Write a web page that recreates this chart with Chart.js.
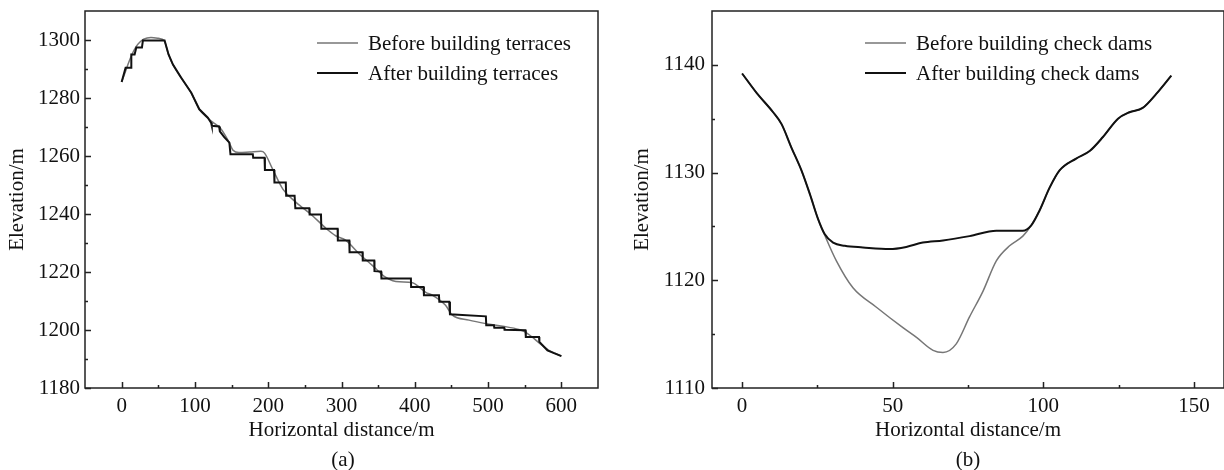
<!DOCTYPE html>
<html>
<head>
<meta charset="utf-8">
<script src="https://cdn.jsdelivr.net/npm/chart.js@4.4.0/dist/chart.umd.min.js"></script>
<style>
  body { margin: 0; background: #fff; width: 1224px; height: 470px; overflow: hidden; position: relative; font-family: "Liberation Serif", "Times New Roman", serif; }
  .panel { position: absolute; top: 0; width: 612px; height: 470px; }
  .caption { position: absolute; top: 447px; font-size: 21px; color: #111; transform: translateX(-50%); line-height: 24px; }
</style>
</head>
<body>
<div class="panel" style="left:0"><canvas id="chartA" width="612" height="470"></canvas></div>
<div class="panel" style="left:612px"><canvas id="chartB" width="612" height="470"></canvas></div>
<div class="caption" style="left:343px">(a)</div>
<div class="caption" style="left:968px">(b)</div>
<script>
// (a) terraces
const terraceDistBefore = [0, 5, 10, 15, 20, 25, 30, 40, 50, 58, 64, 70, 81, 95, 106, 117, 125, 135, 145, 152, 160, 175, 190, 195, 206, 220, 238, 260, 279, 292, 306, 324, 342, 360, 370, 379, 397, 406, 415, 424, 442, 451, 474, 497, 520, 542, 551, 560, 570, 583, 600];
const terraceElevBefore = [1285.5, 1289, 1292.5, 1295.5, 1297.8, 1299.3, 1300.3, 1300.9, 1300.6, 1299.8, 1295, 1291.5, 1287, 1281.8, 1276.1, 1273.2, 1271.5, 1269.5, 1265.5, 1262, 1261.2, 1261.4, 1261.6, 1261, 1255.5, 1248.6, 1244, 1239.5, 1235, 1232.5, 1230.9, 1226.3, 1222.3, 1218.2, 1217, 1216.6, 1216.3, 1214.8, 1213, 1212, 1208.5, 1205.2, 1203.4, 1202.2, 1201.3, 1200.2, 1199.3, 1197.6, 1195.5, 1193, 1191];

const terraceDistAfter = [0, 5.4, 13.2, 13.2, 17.7, 20, 27.7, 29, 58.6, 64, 70, 81.3, 95, 106, 117.6, 122, 123, 133, 134, 140, 147, 148.5, 179, 179.5, 195, 195.5, 208, 208.5, 224, 224.5, 236, 237, 256, 256.5, 272, 272.5, 294.7, 295, 310.6, 311, 328.7, 329, 344.7, 345, 354, 354.5, 394.7, 395, 412, 412.5, 433, 433.5, 447, 448, 497, 497.5, 508, 508.5, 522, 522.5, 551, 551.5, 569.5, 570, 581, 590, 600];
const terraceElevAfter = [1285.5, 1290.4, 1290.4, 1295, 1295, 1297.4, 1297.4, 1299.8, 1299.8, 1295, 1291.5, 1287, 1281.8, 1276.1, 1273.2, 1271.5, 1270.4, 1270.2, 1268.5, 1266.5, 1264.6, 1260.6, 1260.6, 1259.4, 1259.4, 1255.2, 1255.2, 1250.9, 1250.9, 1246.3, 1246.3, 1242, 1242, 1239.8, 1239.8, 1234.9, 1234.9, 1230.9, 1230.9, 1226.8, 1226.8, 1224, 1224, 1220.3, 1220.2, 1217.8, 1217.8, 1214.8, 1214.8, 1212, 1212, 1209.7, 1209.7, 1205.4, 1204.7, 1201.6, 1201.6, 1200.8, 1200.8, 1200.1, 1199.9, 1197.6, 1197.6, 1195.9, 1193, 1192, 1191];

const terraceXTicks = [0, 100, 200, 300, 400, 500, 600];
const terraceXMinor = [50, 150, 250, 350, 450, 550];
const terraceYTicks = [1180, 1200, 1220, 1240, 1260, 1280, 1300];
const terraceYMinor = [1190, 1210, 1230, 1250, 1270, 1290];

// (b) check dams
const damDistBefore = [0, 4.8, 10.3, 13.1, 16.4, 19.7, 22.5, 25.2, 27.4, 31.3, 36.8, 44.6, 53.4, 57.9, 63.4, 66.7, 71.1, 75.5, 80, 84.4, 88.8, 93.2, 96, 98.8, 102.1, 105.4, 110.9, 115.4, 119.8, 124.8, 128.6, 133, 137.5, 142.5];
const damElevBefore = [1139.2, 1137.4, 1135.6, 1134.5, 1132.3, 1130.2, 1128, 1125.7, 1124.2, 1121.8, 1119.3, 1117.5, 1115.6, 1114.7, 1113.5, 1113.3, 1114.1, 1116.6, 1119, 1121.8, 1123.2, 1124.1, 1125.1, 1126.5, 1128.6, 1130.2, 1131.3, 1132, 1133.3, 1135, 1135.6, 1136, 1137.3, 1139];

const damDistAfter = [0, 4.8, 10.3, 13.1, 16.4, 19.7, 22.5, 25.2, 27.4, 30.2, 34.1, 40.1, 49, 54.5, 60, 66.7, 75.5, 84.4, 93.2, 96, 98.8, 102.1, 105.4, 110.9, 115.4, 119.8, 124.8, 128.6, 133, 137.5, 142.5];
const damElevAfter = [1139.2, 1137.4, 1135.6, 1134.5, 1132.3, 1130.2, 1128, 1125.7, 1124.3, 1123.5, 1123.2, 1123.05, 1122.9, 1123.1, 1123.5, 1123.7, 1124.1, 1124.6, 1124.6, 1125.1, 1126.5, 1128.6, 1130.2, 1131.3, 1132, 1133.3, 1135, 1135.6, 1136, 1137.3, 1139];

const damXTicks = [0, 50, 100, 150];
const damXMinor = [25, 75, 125];
const damYTicks = [1110, 1120, 1130, 1140];
const damYMinor = [1115, 1125, 1135];

const serif = "'Liberation Serif', 'Times New Roman', serif";
const textFont = { family: serif, size: 21, lineHeight: 1.2 };
const grayLine = "#767676";
const blackLine = "#111";

function xy(xs, ys) {
  return xs.map((x, i) => ({ x, y: ys[i] }));
}

const frameTicksPlugin = {
  id: "frameTicks",
  afterDraw(chart, args, opts) {
    const { ctx, chartArea: a, scales } = chart;
    ctx.save();
    ctx.strokeStyle = "#222";
    ctx.lineWidth = 1.5;
    ctx.strokeRect(a.left, a.top, a.right - a.left, a.bottom - a.top);
    ctx.beginPath();
    const tickX = (list, len) => list.forEach((v) => {
      const px = Math.round(scales.x.getPixelForValue(v)) + 0.5;
      ctx.moveTo(px, a.bottom);
      ctx.lineTo(px, a.bottom - len);
    });
    const tickY = (list, len) => list.forEach((v) => {
      const py = Math.round(scales.y.getPixelForValue(v)) + 0.5;
      ctx.moveTo(a.left, py);
      ctx.lineTo(a.left + len, py);
    });
    tickX(opts.xMajor, 6);
    tickX(opts.xMinor, 3);
    tickY(opts.yMajor, 6);
    tickY(opts.yMinor, 3);
    ctx.stroke();

    // legend inside the plot
    ctx.font = `21px ${serif}`;
    ctx.textBaseline = "middle";
    ctx.fillStyle = "#111";
    chart.data.datasets.forEach((ds, i) => {
      const y = opts.legendY + i * opts.legendGap;
      ctx.strokeStyle = ds.borderColor;
      ctx.lineWidth = ds.borderWidth;
      ctx.beginPath();
      ctx.moveTo(opts.legendX, y);
      ctx.lineTo(opts.legendX + 41, y);
      ctx.stroke();
      ctx.fillText(ds.label, opts.legendX + 51, y + 1);
    });
    ctx.restore();
  },
};

function makeChart(id, cfg) {
  return new Chart(document.getElementById(id), {
    type: "scatter",
    plugins: [frameTicksPlugin],
    data: {
      datasets: [
        {
          label: cfg.labels[0],
          data: cfg.before,
          showLine: true,
          borderColor: grayLine,
          borderWidth: 1.5,
          pointRadius: 0,
          cubicInterpolationMode: "monotone",
          order: 1,
        },
        {
          label: cfg.labels[1],
          data: cfg.after,
          showLine: true,
          borderColor: blackLine,
          borderWidth: 2,
          pointRadius: 0,
          cubicInterpolationMode: cfg.smoothAfter ? "monotone" : "default",
          tension: 0,
          order: 0,
        },
      ],
    },
    options: {
      responsive: false,
      animation: false,
      devicePixelRatio: 1,
      layout: { padding: { left: 0, top: 11, right: cfg.padRight, bottom: 0 } },
      plugins: {
        legend: { display: false },
        tooltip: { enabled: false },
        frameTicks: {
          xMajor: cfg.xTicks, xMinor: cfg.xMinor,
          yMajor: cfg.yTicks, yMinor: cfg.yMinor,
          legendX: cfg.legendX, legendY: 43, legendGap: 30,
        },
      },
      scales: {
        x: {
          type: "linear",
          min: cfg.xMin,
          max: cfg.xMax,
          afterBuildTicks: (s) => { s.ticks = cfg.xTicks.map((v) => ({ value: v })); },
          afterFit: (s) => { s.height = 82; s.paddingLeft = 0; s.paddingRight = 0; },
          grid: { display: false, drawTicks: false },
          border: { display: false },
          ticks: { font: textFont, color: "#111", padding: 6, maxRotation: 0, callback: (v) => String(v) },
          title: { display: true, text: "Horizontal distance/m", font: textFont, color: "#111", padding: { top: 0, bottom: 27 } },
        },
        y: {
          type: "linear",
          min: cfg.yMin,
          max: cfg.yMax,
          afterBuildTicks: (s) => { s.ticks = cfg.yTicks.map((v) => ({ value: v })); },
          afterFit: (s) => { s.width = cfg.yWidth; s.paddingTop = 0; s.paddingBottom = 0; },
          grid: { display: false, drawTicks: false },
          border: { display: false },
          ticks: { font: textFont, color: "#111", padding: cfg.yPad, callback: (v) => String(v) },
          title: { display: true, text: "Elevation/m", font: textFont, color: "#111", padding: { top: cfg.yTitlePad, bottom: 0 } },
        },
      },
    },
  });
}

makeChart("chartA", {
  labels: ["Before building terraces", "After building terraces"],
  before: xy(terraceDistBefore, terraceElevBefore),
  after: xy(terraceDistAfter, terraceElevAfter),
  smoothAfter: false,
  xMin: -50, xMax: 650, yMin: 1180, yMax: 1310,
  xTicks: terraceXTicks, xMinor: terraceXMinor,
  yTicks: terraceYTicks, yMinor: terraceYMinor,
  padRight: 14, yWidth: 85, yPad: 5, yTitlePad: 5,
  legendX: 317,
});

makeChart("chartB", {
  labels: ["Before building check dams", "After building check dams"],
  before: xy(damDistBefore, damElevBefore),
  after: xy(damDistAfter, damElevAfter),
  smoothAfter: true,
  xMin: -10, xMax: 160, yMin: 1110, yMax: 1145,
  xTicks: damXTicks, xMinor: damXMinor,
  yTicks: damYTicks, yMinor: damYMinor,
  padRight: 0, yWidth: 100, yPad: 7, yTitlePad: 18,
  legendX: 253,
});
</script>
</body>
</html>
